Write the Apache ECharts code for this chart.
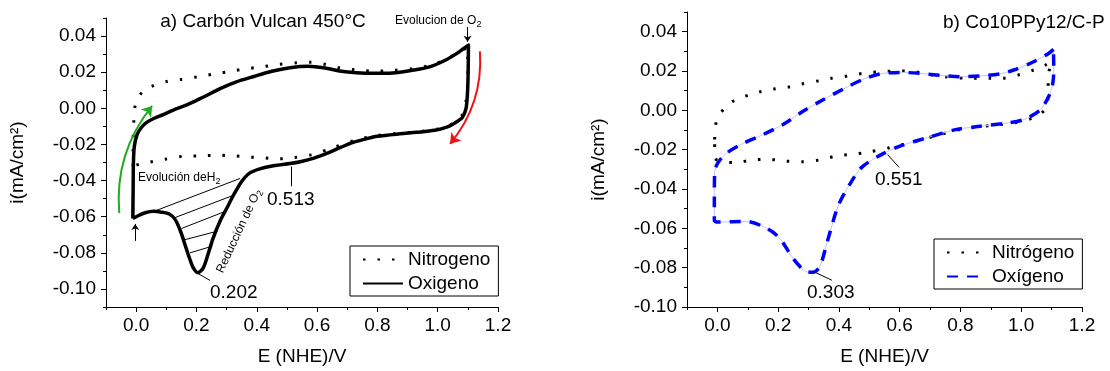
<!DOCTYPE html>
<html><head><meta charset="utf-8">
<script src="https://cdn.jsdelivr.net/npm/echarts@6/dist/echarts.min.js"></script>
<style>html,body{margin:0;padding:0;background:#fff}#c{width:1110px;height:371px}</style>
</head><body><div id="c"></div>
<script>
// ---------- tick values ----------
const X_TICKS = [0.0, 0.2, 0.4, 0.6, 0.8, 1.0, 1.2];
const Y_TICKS = [-0.10, -0.08, -0.06, -0.04, -0.02, 0.00, 0.02, 0.04];

// ---------- panel a) Carbón Vulcan 450°C ----------
const A_N2_X = [-0.010,-0.010,-0.008,-0.003,0.020,0.052,0.100,0.150,0.210,0.260,0.320,0.370,0.420,0.470,0.530,0.580,0.630,0.680,0.730,0.790,0.850,0.920,0.980,1.030,1.070,1.100,1.100,1.095,1.080,1.050,1.000,0.900,0.800,0.720,0.650,0.580,0.520,0.467,0.423,0.373,0.323,0.274,0.219,0.158,0.096,0.046,0.010,-0.010];
const A_N2_Y = [-0.032,-0.019,-0.008,0.0015,0.0090,0.0122,0.0148,0.0160,0.0176,0.0190,0.0207,0.0220,0.0230,0.0243,0.0252,0.0255,0.0242,0.0222,0.0212,0.0206,0.0210,0.0220,0.0240,0.0274,0.0310,0.0340,0.0200,0.0050,-0.0040,-0.0085,-0.0115,-0.0135,-0.0150,-0.0180,-0.0220,-0.0258,-0.0274,-0.0280,-0.0274,-0.0270,-0.0263,-0.0260,-0.0263,-0.0265,-0.0282,-0.0298,-0.0310,-0.032];
const A_O2_X = [-0.011,-0.010,-0.009,-0.006,0.003,0.018,0.035,0.060,0.090,0.130,0.170,0.220,0.280,0.330,0.390,0.450,0.510,0.570,0.630,0.680,0.730,0.790,0.850,0.920,0.970,1.020,1.060,1.085,1.102,1.101,1.099,1.094,1.082,1.069,1.050,1.030,0.990,0.930,0.875,0.800,0.760,0.720,0.680,0.632,0.590,0.544,0.510,0.455,0.410,0.375,0.350,0.323,0.300,0.278,0.255,0.238,0.222,0.205,0.190,0.177,0.162,0.146,0.129,0.110,0.085,0.057,0.030,0.010,-0.011];
const A_O2_Y = [-0.061,-0.045,-0.030,-0.021,-0.0145,-0.0105,-0.0078,-0.0055,-0.0035,-0.0005,0.0020,0.0060,0.0110,0.0145,0.0176,0.0205,0.0225,0.0233,0.0222,0.0205,0.0197,0.0194,0.0196,0.0212,0.0228,0.0262,0.0300,0.0330,0.0350,0.0200,0.0090,0.0000,-0.0050,-0.0068,-0.0088,-0.0104,-0.0122,-0.0133,-0.0141,-0.0155,-0.0170,-0.0188,-0.0215,-0.0250,-0.0276,-0.0296,-0.0306,-0.0318,-0.0335,-0.0360,-0.0405,-0.0480,-0.0555,-0.0625,-0.0720,-0.0810,-0.0885,-0.0910,-0.0885,-0.0830,-0.0755,-0.0675,-0.0615,-0.0585,-0.0575,-0.0570,-0.0578,-0.0592,-0.061];
// hatch lines under the O2 reduction peak: [x1,y1,x2,y2]
const A_HATCH = [[0.063,-0.0568,0.345,-0.0388],[0.129,-0.0605,0.325,-0.0480],[0.151,-0.0665,0.298,-0.0569],[0.162,-0.0727,0.270,-0.0680],[0.179,-0.0800,0.253,-0.0763]];
const A_POINTERS = [[0.514,-0.0322,0.514,-0.0432],[0.2055,-0.0915,0.245,-0.0953]];
const A_SMALL_ARROWS = [[1.099,0.0450,1.099,0.0369],[-0.003,-0.0734,-0.003,-0.0640]];
const A_GREEN_ARROW = [-0.056,-0.058,0.053,0.0013];
const A_RED_ARROW = [1.140,0.0315,1.041,-0.0197];

// ---------- panel b) Co10PPy12/C-P ----------
const B_N2_X = [-0.009,-0.003,0.024,0.063,0.107,0.145,0.184,0.233,0.277,0.337,0.376,0.431,0.480,0.541,0.596,0.645,0.689,0.744,0.832,0.887,0.936,0.990,1.041,1.079,1.098,1.090,1.085,1.036,0.975,0.876,0.799,0.733,0.656,0.568,0.486,0.436,0.392,0.337,0.277,0.216,0.167,0.118,0.057,-0.009,-0.009];
const B_N2_Y = [-0.0148,-0.0055,0.0012,0.0057,0.0079,0.0096,0.0108,0.0118,0.0134,0.0151,0.0163,0.0175,0.0188,0.0197,0.0200,0.0197,0.0185,0.0171,0.0163,0.0163,0.0163,0.0180,0.0205,0.0230,0.0247,0.0180,0.0020,-0.0039,-0.0064,-0.0081,-0.0097,-0.0123,-0.0156,-0.0190,-0.0215,-0.0224,-0.0232,-0.0252,-0.0262,-0.0257,-0.0249,-0.0252,-0.0266,-0.0240,-0.0148];
const B_O2_X = [1.106,1.090,1.041,0.975,0.930,0.865,0.800,0.733,0.667,0.601,0.535,0.480,0.414,0.348,0.282,0.216,0.151,0.085,0.030,0.002,-0.009,-0.010,-0.010,0.000,0.096,0.162,0.205,0.249,0.293,0.315,0.337,0.365,0.398,0.436,0.475,0.535,0.601,0.689,0.788,0.865,0.942,1.008,1.063,1.093,1.104,1.107,1.106];
const B_O2_Y = [0.0310,0.0289,0.0247,0.0205,0.0185,0.0175,0.0171,0.0178,0.0188,0.0193,0.0185,0.0158,0.0108,0.0054,-0.0005,-0.0072,-0.0123,-0.0168,-0.0218,-0.0266,-0.0316,-0.0450,-0.0560,-0.0568,-0.0565,-0.0600,-0.0650,-0.0753,-0.0820,-0.0823,-0.0795,-0.0650,-0.0484,-0.0375,-0.0290,-0.0229,-0.0182,-0.0140,-0.0097,-0.0081,-0.0067,-0.0047,0.0003,0.0079,0.0138,0.0205,0.0310];
const B_POINTERS = [[0.560,-0.0225,0.598,-0.0290],[0.314,-0.0818,0.377,-0.0864]];

const FONT = "'Liberation Sans', Arial, sans-serif";
const zip = (xs, ys) => xs.map((x, i) => [x, ys[i]]);
const segs = arr => arr.map(s => ({coords: [[s[0], s[1]], [s[2], s[3]]]}));

const chart = echarts.init(document.getElementById('c'), null, {renderer: 'canvas'});

function axesFor(grid) {
  const xMinor = {gridIndex: grid, type: 'value', position: 'bottom', min: -0.1, max: 1.2, interval: 0.1,
    axisLine: {show: true, onZero: false, lineStyle: {color: '#000', width: 1}},
    axisTick: {show: true, inside: false, length: 3, lineStyle: {color: '#000'}},
    axisLabel: {show: false}, splitLine: {show: false}};
  const xMajor = {gridIndex: grid, type: 'value', position: 'bottom', min: -0.1, max: 1.2,
    axisLine: {show: false, onZero: false},
    axisTick: {show: true, inside: false, length: 5, customValues: X_TICKS, lineStyle: {color: '#000'}},
    axisLabel: {show: true, customValues: X_TICKS, margin: 9, color: '#000', fontSize: 19, fontFamily: FONT,
      formatter: v => v.toFixed(1)},
    splitLine: {show: false},
    name: 'E (NHE)/V', nameLocation: 'middle', nameGap: 40,
    nameTextStyle: {color: '#000', fontSize: 19, fontFamily: FONT}};
  return {xMinor, xMajor};
}
function yAxesFor(grid, min) {
  const yMinor = {gridIndex: grid, type: 'value', position: 'left', min: min, max: 0.05, interval: 0.01,
    axisLine: {show: true, onZero: false, lineStyle: {color: '#000', width: 1}},
    axisTick: {show: true, inside: false, length: 3, lineStyle: {color: '#000'}},
    axisLabel: {show: false}, splitLine: {show: false}};
  const yMajor = {gridIndex: grid, type: 'value', position: 'left', min: min, max: 0.05,
    axisLine: {show: false, onZero: false},
    axisTick: {show: true, inside: false, length: 5, customValues: Y_TICKS, lineStyle: {color: '#000'}},
    axisLabel: {show: true, customValues: Y_TICKS, margin: 10, color: '#000', fontSize: 19, fontFamily: FONT,
      formatter: v => v.toFixed(2)},
    splitLine: {show: false},
    name: 'i(mA/cm²)', nameLocation: 'middle', nameGap: 79, nameRotate: 90,
    nameTextStyle: {color: '#000', fontSize: 19, fontFamily: FONT}};
  return {yMinor, yMajor};
}
const ax0 = axesFor(0), ax1 = axesFor(1);
const ay0 = yAxesFor(0, -0.11), ay1 = yAxesFor(1, -0.10);

const legendBase = {orient: 'vertical', itemWidth: 40, itemHeight: 14, itemGap: 5,
  borderColor: '#000', borderWidth: 1, borderRadius: 0, backgroundColor: '#fff',
  itemStyle: {opacity: 0},
  textStyle: {color: '#000', fontSize: 19, fontFamily: FONT}, selectedMode: false};

const dotted = {color: '#000', width: 3, type: [2.5, 12], cap: 'butt'};

function sub(main, s, size) {
  return {text: '{m|' + main + '}{s|' + s + '}',
    rich: {m: {fontSize: size, fontFamily: FONT, fill: '#000', lineHeight: size + 4},
           s: {fontSize: Math.round(size * 0.75), fontFamily: FONT, fill: '#000', lineHeight: Math.round(size * 0.75), verticalAlign: 'bottom'}}};
}

const option = {
  animation: false,
  backgroundColor: '#fff',
  grid: [
    {left: 106, top: 18, width: 392, height: 292},
    {left: 687, top: 12, width: 395, height: 297}
  ],
  xAxis: [ax0.xMinor, ax0.xMajor, ax1.xMinor, ax1.xMajor],
  yAxis: [ay0.yMinor, ay0.yMajor, ay1.yMinor, ay1.yMajor],
  legend: [
    Object.assign({}, legendBase, {data: ['Nitrogeno', 'Oxigeno'], left: 350, top: 246, padding: [4, 8, 3, 12]}),
    Object.assign({}, legendBase, {data: ['Nitrógeno', 'Oxígeno'], left: 934, top: 239, padding: [4, 8, 3, 12]})
  ],
  series: [
    {name: 'Nitrogeno', type: 'line', xAxisIndex: 0, yAxisIndex: 0, data: zip(A_N2_X, A_N2_Y),
      symbol: 'none', smooth: 0.3, lineStyle: dotted, itemStyle: {color: '#000'}, z: 3},
    {name: 'Oxigeno', type: 'line', xAxisIndex: 0, yAxisIndex: 0, data: zip(A_O2_X, A_O2_Y),
      symbol: 'none', smooth: 0.3, lineStyle: {color: '#000', width: 3.5, join: 'round'}, itemStyle: {color: '#000'}, z: 4},
    {type: 'lines', coordinateSystem: 'cartesian2d', xAxisIndex: 0, yAxisIndex: 0, silent: true, symbol: 'none',
      lineStyle: {color: '#000', width: 1, opacity: 1}, data: segs(A_HATCH.concat(A_POINTERS)), z: 5},
    {type: 'lines', coordinateSystem: 'cartesian2d', xAxisIndex: 0, yAxisIndex: 0, silent: true,
      symbol: ['none', 'arrow'], symbolSize: 6,
      lineStyle: {color: '#000', width: 1, opacity: 1}, data: segs(A_SMALL_ARROWS), z: 5},
    {type: 'lines', coordinateSystem: 'cartesian2d', xAxisIndex: 0, yAxisIndex: 0, silent: true,
      symbol: ['none', 'arrow'], symbolSize: 10,
      lineStyle: {color: '#22aa22', width: 2, opacity: 1, curveness: 0.2}, data: segs([A_GREEN_ARROW]), z: 5},
    {type: 'lines', coordinateSystem: 'cartesian2d', xAxisIndex: 0, yAxisIndex: 0, silent: true,
      symbol: ['none', 'arrow'], symbolSize: 10,
      lineStyle: {color: '#ee1111', width: 2, opacity: 1, curveness: 0.2}, data: segs([A_RED_ARROW]), z: 5},

    {name: 'Nitrógeno', type: 'line', xAxisIndex: 2, yAxisIndex: 2, data: zip(B_N2_X, B_N2_Y),
      symbol: 'none', smooth: 0.3, lineStyle: dotted, itemStyle: {color: '#000'}, z: 3},
    {name: 'O2 underlay', type: 'line', xAxisIndex: 2, yAxisIndex: 2, data: zip(B_O2_X, B_O2_Y),
      symbol: 'none', smooth: 0.3, lineStyle: {color: '#c4c4f6', width: 1}, z: 3},
    {name: 'Oxígeno', type: 'line', xAxisIndex: 2, yAxisIndex: 2, data: zip(B_O2_X, B_O2_Y),
      symbol: 'none', smooth: 0.3, lineStyle: {color: '#0000ff', width: 3.5, type: [11, 9], cap: 'butt'}, itemStyle: {color: '#0000ff'}, z: 4},
    {type: 'lines', coordinateSystem: 'cartesian2d', xAxisIndex: 2, yAxisIndex: 2, silent: true, symbol: 'none',
      lineStyle: {color: '#000', width: 1, opacity: 1}, data: segs(B_POINTERS), z: 5}
  ],
  graphic: [
    {type: 'text', x: 263, y: 22, style: {text: 'a) Carbón Vulcan 450°C', fontSize: 19, fontFamily: FONT, fill: '#000', align: 'center', verticalAlign: 'middle'}},
    {type: 'text', x: 943, y: 23, style: {text: 'b) Co10PPy12/C-P', fontSize: 19, fontFamily: FONT, fill: '#000', align: 'left', verticalAlign: 'middle'}},
    {type: 'text', x: 395, y: 21, style: Object.assign(sub('Evolucion de O', '2', 12), {align: 'left', verticalAlign: 'middle'})},
    {type: 'text', x: 138, y: 178, style: Object.assign(sub('Evolución deH', '2', 12), {align: 'left', verticalAlign: 'middle'})},
    {type: 'text', x: 239, y: 231, rotation: 65 * Math.PI / 180, style: Object.assign(sub('Reducción de O', '2', 12), {align: 'center', verticalAlign: 'middle'})},
    {type: 'text', x: 267, y: 200, style: {text: '0.513', fontSize: 19, fontFamily: FONT, fill: '#000', align: 'left', verticalAlign: 'middle'}},
    {type: 'text', x: 210, y: 293, style: {text: '0.202', fontSize: 19, fontFamily: FONT, fill: '#000', align: 'left', verticalAlign: 'middle'}},
    {type: 'text', x: 875, y: 180, style: {text: '0.551', fontSize: 19, fontFamily: FONT, fill: '#000', align: 'left', verticalAlign: 'middle'}},
    {type: 'text', x: 807, y: 293, style: {text: '0.303', fontSize: 19, fontFamily: FONT, fill: '#000', align: 'left', verticalAlign: 'middle'}}
  ]
};
chart.setOption(option);
</script>
</body></html>
